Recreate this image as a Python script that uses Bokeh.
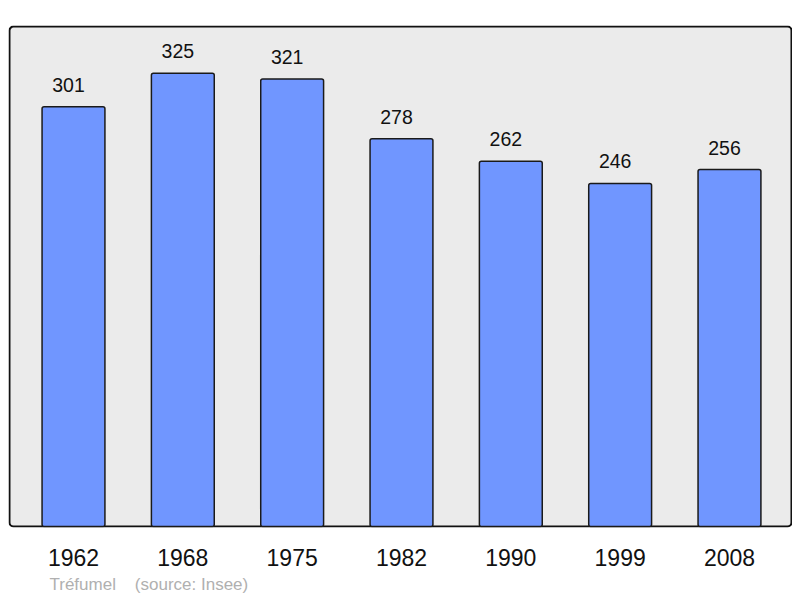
from bokeh.plotting import figure
from bokeh.models import Range1d, FixedTicker, BoxAnnotation, Title
from bokeh.embed import file_html
from bokeh.resources import INLINE

years = ["1962", "1968", "1975", "1982", "1990", "1999", "2008"]
population = [301, 325, 321, 278, 262, 246, 256]
place = "Tréfumel"
source = "(source: Insee)"

xs = list(range(len(years)))
labels = [str(v) for v in population]

p = figure(width=792, height=598, output_backend="svg", toolbar_location=None,
           x_range=Range1d(-0.5945, 6.5764), y_range=Range1d(-0.714, 359.3),
           min_border_left=8, min_border_right=0, min_border_top=25,
           min_border_bottom=69)
p.background_fill_color = "white"
p.border_fill_color = "white"
p.outline_line_color = None
p.grid.visible = False
p.yaxis.visible = False

box = BoxAnnotation(left=-0.5854, right=6.567, bottom=0, top=358.57,
                    fill_color="#ebebeb", fill_alpha=1.0,
                    line_color="#111111", line_alpha=1.0, line_width=2,
                    border_radius=4, level="underlay")
p.add_layout(box)

p.vbar(x=xs, top=population, bottom=0, width=0.575,
       fill_color="#7096ff", line_color="#1a1a1a", line_width=1.5,
       border_radius=2)

p.text(x=xs, y=population, text=labels, x_offset=-5, y_offset=-22,
       text_align="center", text_baseline="alphabetic",
       text_font_size="19.5px", text_color="#111111",
       text_font={"value": "Liberation Sans"})

xa = p.xaxis[0]
xa.ticker = FixedTicker(ticks=xs)
xa.major_label_overrides = {i: y for i, y in zip(xs, years)}
xa.axis_line_color = None
xa.major_tick_line_color = None
xa.minor_tick_line_color = None
xa.major_tick_out = 0
xa.major_tick_in = 0
xa.major_label_standoff = 21
xa.major_label_text_font = "Liberation Sans"
xa.major_label_text_font_size = "23px"
xa.major_label_text_color = "#111111"

foot = Title(text=place + "\u00a0\u00a0\u00a0\u00a0" + source, align="left",
             offset=41, text_font="Liberation Sans", text_font_size="17px",
             text_font_style="normal", text_color="#b0b0b0", standoff=9)
p.add_layout(foot, "below")

open("out.html", "w").write(file_html(p, INLINE))
